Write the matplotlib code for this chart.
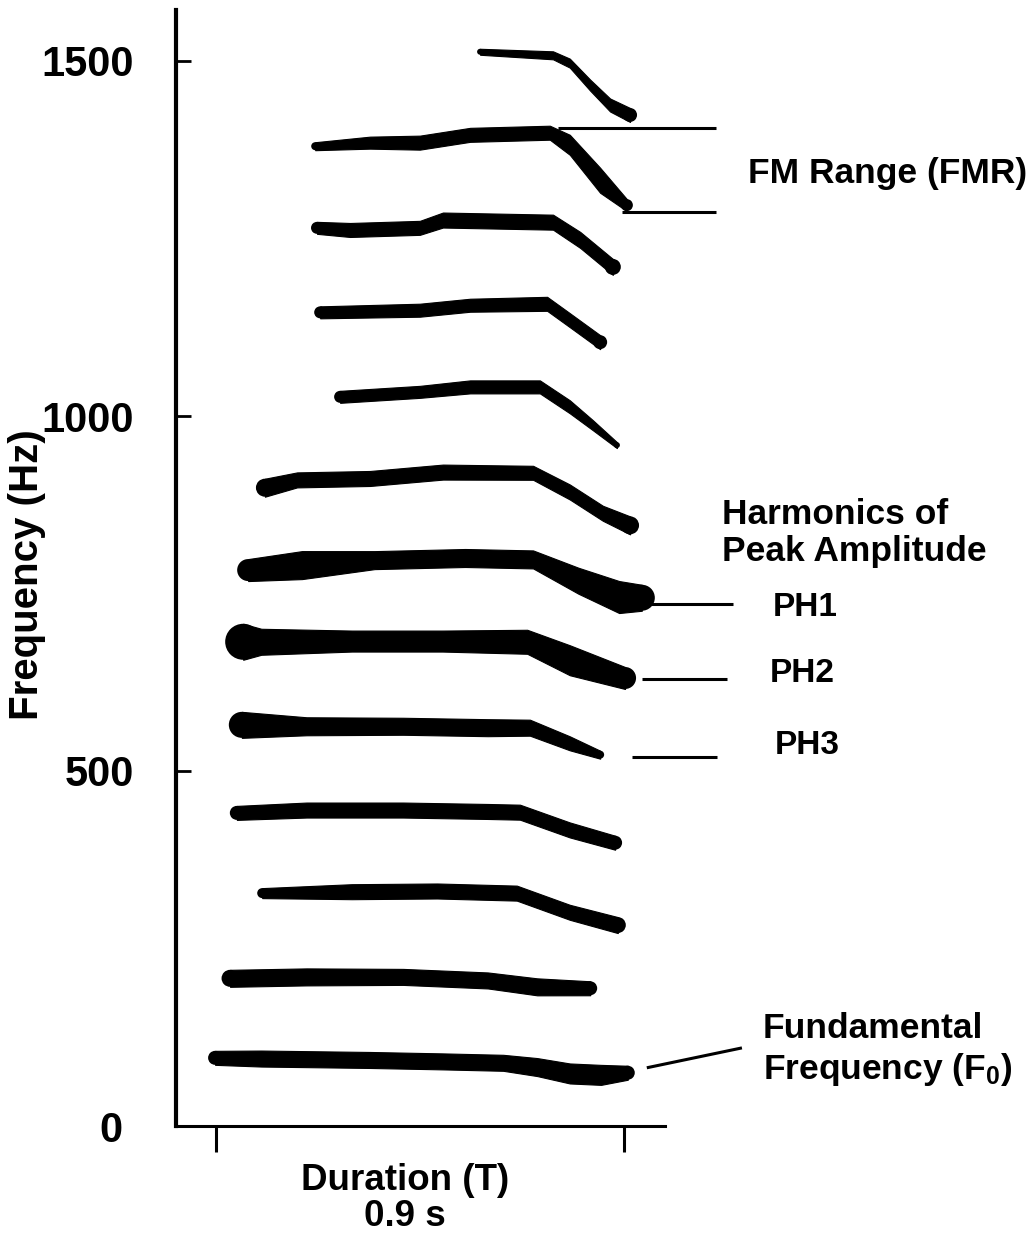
import numpy as np
import matplotlib
matplotlib.use("Agg")
import matplotlib.pyplot as plt

plt.rcParams['font.family'] = ['Liberation Sans', 'DejaVu Sans']
plt.rcParams['font.weight'] = 'bold'
plt.rcParams['mathtext.fontset'] = 'custom'
plt.rcParams['mathtext.rm'] = 'Liberation Sans:bold'
plt.rcParams['mathtext.it'] = 'Liberation Sans:bold'
plt.rcParams['mathtext.bf'] = 'Liberation Sans:bold'

# ---------------- data (time in s, frequency in Hz) ----------------
h1_t = [-0.002, 0.10, 0.34, 0.50, 0.634, 0.709, 0.781, 0.85, 0.909]
h1_f = [96, 95, 93, 91, 89, 83, 74, 72, 75]
h2_t = [0.031, 0.20, 0.413, 0.60, 0.709, 0.826]
h2_f = [208, 210, 210, 205, 196, 194]
h3_t = [0.102, 0.30, 0.488, 0.664, 0.781, 0.887]
h3_f = [328, 330, 331, 328, 301, 283]
h4_t = [0.046, 0.20, 0.413, 0.60, 0.671, 0.781, 0.881]
h4_f = [441, 445, 445, 443, 442, 417, 399]
h5_t = [0.057, 0.20, 0.413, 0.60, 0.693, 0.781, 0.848]
h5_f = [565, 563, 563, 561, 561, 539, 523]
h6_t = [0.060, 0.10, 0.30, 0.50, 0.687, 0.781, 0.903]
h6_f = [682, 682, 683, 683, 682, 656, 631]
h7_t = [0.071, 0.19, 0.35, 0.55, 0.700, 0.80, 0.89, 0.94]
h7_f = [783, 790, 797, 800, 798, 768, 745, 744]
h8_t = [0.108, 0.179, 0.340, 0.501, 0.700, 0.781, 0.854, 0.914]
h8_f = [899, 910, 912, 921, 920, 893, 863, 846]
h9_t = [0.274, 0.450, 0.561, 0.715, 0.781, 0.832, 0.885]
h9_f = [1027, 1034, 1041, 1041, 1013, 987, 959]
h10_t = [0.230, 0.450, 0.561, 0.731, 0.781, 0.848]
h10_f = [1146, 1149, 1156, 1158, 1135, 1104]
h11_t = [0.223, 0.296, 0.450, 0.501, 0.744, 0.804, 0.876]
h11_f = [1265, 1262, 1265, 1276, 1273, 1248, 1210]
h12_t = [0.219, 0.340, 0.450, 0.561, 0.737, 0.781, 0.848, 0.907]
h12_f = [1380, 1385, 1385, 1396, 1399, 1382, 1332, 1297]
h13_t = [0.583, 0.744, 0.781, 0.826, 0.870, 0.914]
h13_f = [1513, 1508, 1497, 1466, 1438, 1424]

fmr_high = 1405
fmr_low = 1288
ph_levels = [735, 630, 520]
ph_labels = ['PH1', 'PH2', 'PH3']
y_ticks = [0, 500, 1000, 1500]
x_ticks = [0, 0.9]

# ---------------- styles (band thickness in px) ----------------
h_width = [
    [14, 16, 16, 16, 16, 18, 20, 20, 14],
    [17, 17, 16, 16, 17, 14],
    [10, 15, 15, 15, 15, 16],
    [14, 15, 15, 15, 15, 15, 14],
    [26, 18, 17, 17, 16, 14, 8],
    [36, 26, 21, 21, 24, 30, 22],
    [22, 28, 18, 18, 18, 26, 32, 26],
    [18, 15, 15, 15, 14, 15, 15, 18],
    [12, 12, 13, 13, 13, 10, 6],
    [12, 13, 13, 14, 14, 14],
    [12, 14, 14, 15, 15, 16, 16],
    [8, 12, 14, 14, 14, 20, 25, 12],
    [6, 8, 9, 11, 13, 14],
]
harmonics = [(h1_t, h1_f), (h2_t, h2_f), (h3_t, h3_f), (h4_t, h4_f),
             (h5_t, h5_f), (h6_t, h6_f), (h7_t, h7_f), (h8_t, h8_f),
             (h9_t, h9_f), (h10_t, h10_f), (h11_t, h11_f), (h12_t, h12_f),
             (h13_t, h13_f)]

W, H = 1033, 1233
fig = plt.figure(figsize=(W / 100, H / 100), dpi=100)
ax = fig.add_axes([176 / W, (H - 1126) / H, (665 - 176) / W, (1126 - 10) / H])
ax.set_xlim((176 - 216) / 453, (665 - 216) / 453)
ax.set_ylim(0, (1126 - 10) / 0.71)
px_per_hz = 0.71

for (t, f), wpx in zip(harmonics, h_width):
    t = np.asarray(t, float)
    f = np.asarray(f, float)
    hw = np.asarray(wpx, float) / 2 / px_per_hz
    ax.fill_between(t, f - hw, f + hw, color='black', lw=0.8, edgecolor='black')
    ends = [0, -1]
    ax.scatter(t[ends], f[ends], s=(np.asarray(wpx, float)[ends] * 0.72) ** 2,
               color='black', marker='o', linewidths=0, zorder=2)

# annotation leader lines
lk = dict(color='black', lw=2.2, clip_on=False, solid_capstyle='butt')
ax.plot([0.755, 1.104], [fmr_high, fmr_high], **lk)
ax.plot([0.896, 1.104], [fmr_low, fmr_low], **lk)
for lvl, (a, b) in zip(ph_levels, [(0.956, 1.141), (0.940, 1.128), (0.918, 1.106)]):
    ax.plot([a, b], [lvl, lvl], **lk)
ax.plot([0.951, 1.161], [h1_f[-1] + 7, h1_f[-1] + 35], **lk)

# axes styling
for s in ['top', 'right']:
    ax.spines[s].set_visible(False)
ax.spines['left'].set_linewidth(3)
ax.spines['bottom'].set_linewidth(2.2)
ax.set_yticks(y_ticks)
ax.set_yticklabels([str(v) for v in y_ticks])
ax.tick_params(axis='y', direction='in', length=11, width=2, pad=30, labelsize=30)
ax.set_xticks(x_ticks)
ax.set_xticklabels([])
ax.tick_params(axis='x', direction='out', length=19, width=2.2)
for lab in ax.get_yticklabels():
    lab.set_fontweight('bold')
ax.get_yticklabels()[0].set_x(-0.025)

def ftext(x, y, s, size, **kw):
    fig.text(x / W, 1 - y / H, s, fontsize=size, fontweight='bold', **kw)

ftext(27, 575, 'Frequency (Hz)', 29, rotation=90, ha='center', va='center')
ftext(405, 1180, 'Duration (T)', 26.5, ha='center', va='center')
ftext(405, 1216, '0.9 s', 26.5, ha='center', va='center')
ftext(748, 173, 'FM Range (FMR)', 25.5, ha='left', va='center')
ftext(722, 515, 'Harmonics of', 25.5, ha='left', va='center')
ftext(722, 551, 'Peak Amplitude', 25.5, ha='left', va='center')
for lab, (x, y) in zip(ph_labels, [(773, 607), (770, 673), (775, 745)]):
    ftext(x, y, lab, 24, ha='left', va='center')
ftext(763, 1028, 'Fundamental', 25.5, ha='left', va='center')
ftext(763, 1070, 'Frequency (F$_0$)', 25.5, ha='left', va='center')

fig.savefig('out.png', dpi=100)
